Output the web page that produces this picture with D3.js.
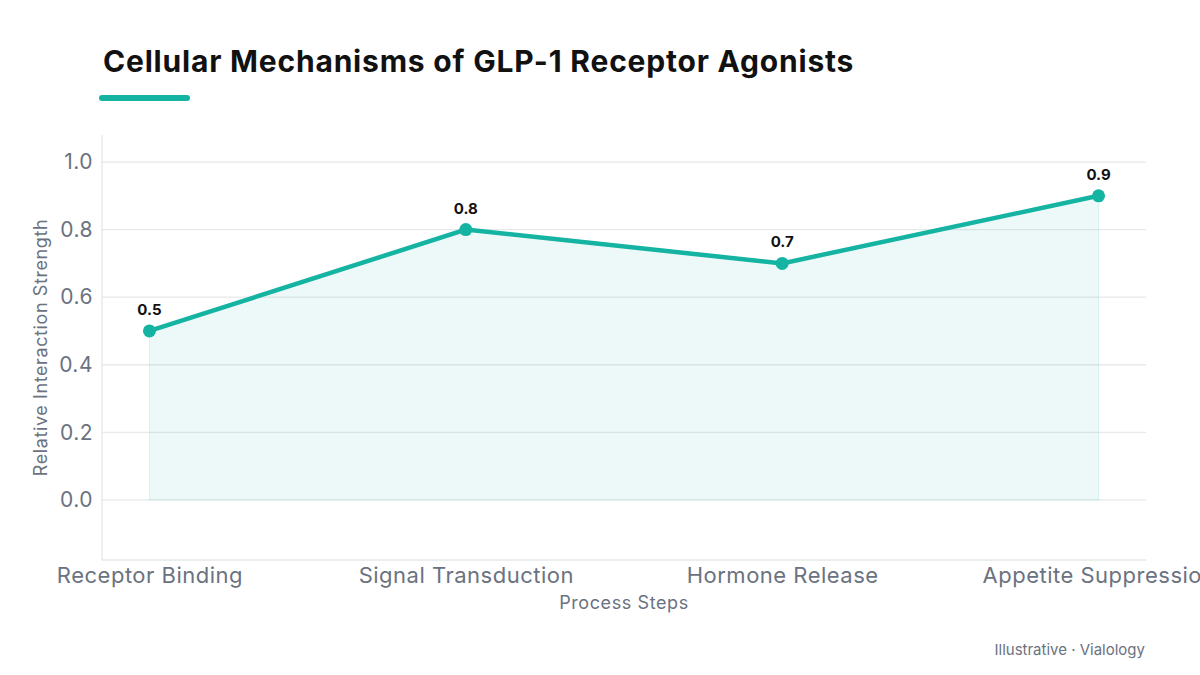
<!DOCTYPE html>
<html>
<head>
    <title>Cellular Mechanisms of GLP-1 Receptor Agonists</title>
    <script src="https://d3js.org/d3.v7.min.js"></script>
    <style>
        body { margin: 0; background: #fff; }
        svg text { font-family: "Inter", "DejaVu Sans", sans-serif; }
    </style>
</head>
<body>
    <svg id="chart" width="1200" height="675"></svg>

    <script>
        // chart data
        const steps = ["Receptor Binding", "Signal Transduction", "Hormone Release", "Appetite Suppression"];
        const strength = [0.5, 0.8, 0.7, 0.9];
        const yTicks = [0, 0.2, 0.4, 0.6, 0.8, 1.0];

        const svg = d3.select("svg#chart");
        const margin = { top: 135, right: 54, bottom: 115, left: 102 };
        const width = +svg.attr("width") - margin.left - margin.right;
        const height = +svg.attr("height") - margin.top - margin.bottom;
        const teal = "#14b3a2";

        // title + accent bar
        svg.append("text")
            .attr("x", 103).attr("y", 72)
            .style("font-size", "30px").style("font-weight", "700").style("fill", "#111")
            .style("letter-spacing", "0.8px")
            .text("Cellular Mechanisms of GLP-1 Receptor Agonists");
        svg.append("rect")
            .attr("x", 99).attr("y", 95).attr("width", 91).attr("height", 6).attr("rx", 3)
            .attr("fill", teal);

        const x = d3.scalePoint().domain(steps).range([0, width]).padding(0.15);
        const y = d3.scaleLinear().domain([-0.178, 1.08]).range([height, 0]);

        const g = svg.append("g").attr("transform", "translate(" + margin.left + "," + margin.top + ")");

        // gridlines
        g.selectAll(".grid").data(yTicks).join("line")
            .attr("class", "grid")
            .attr("x1", 0).attr("x2", width)
            .attr("y1", d => y(d)).attr("y2", d => y(d))
            .attr("stroke", "#e6eae9").attr("stroke-width", 1.3);

        // axis lines
        g.append("line").attr("x1", 0).attr("x2", 0).attr("y1", 0).attr("y2", height)
            .attr("stroke", "#e3e8e7").attr("stroke-width", 1.3);
        g.append("line").attr("x1", 0).attr("x2", width).attr("y1", height).attr("y2", height)
            .attr("stroke", "#e3e8e7").attr("stroke-width", 1.3);

        // y axis ticks
        const yAxis = g.append("g")
            .call(d3.axisLeft(y).tickValues(yTicks).tickFormat(d3.format(".1f")).tickSize(0).tickPadding(9));
        yAxis.select(".domain").remove();
        yAxis.selectAll("text").style("font-size", "21px").style("fill", "#6b7280").style("letter-spacing", "0.5px");

        // x axis ticks
        const xAxis = g.append("g")
            .attr("transform", "translate(0," + height + ")")
            .call(d3.axisBottom(x).tickSize(0).tickPadding(7));
        xAxis.select(".domain").remove();
        xAxis.selectAll("text").style("font-size", "22px").style("fill", "#6b7280").style("letter-spacing", "0.5px");

        // axis titles
        svg.append("text")
            .attr("transform", "translate(47," + (margin.top + height / 2) + ") rotate(-90)")
            .attr("text-anchor", "middle")
            .style("font-size", "18px").style("fill", "#6b7280").style("letter-spacing", "0.6px")
            .text("Relative Interaction Strength");
        svg.append("text")
            .attr("x", margin.left + width / 2).attr("y", 609)
            .attr("text-anchor", "middle")
            .style("font-size", "18px").style("fill", "#6b7280").style("letter-spacing", "0.6px")
            .text("Process Steps");

        const data = steps.map((s, i) => ({ step: s, value: strength[i] }));

        // area
        g.append("path")
            .datum(data)
            .attr("d", d3.area().x(d => x(d.step)).y0(y(0)).y1(d => y(d.value)))
            .attr("fill", teal).attr("fill-opacity", 0.08)
            .attr("stroke", teal).attr("stroke-opacity", 0.12).attr("stroke-width", 1);

        // line
        g.append("path")
            .datum(data)
            .attr("d", d3.line().x(d => x(d.step)).y(d => y(d.value)))
            .attr("fill", "none").attr("stroke", teal).attr("stroke-width", 4.5);

        g.selectAll(".dot").data(data).join("circle")
            .attr("class", "dot")
            .attr("cx", d => x(d.step)).attr("cy", d => y(d.value)).attr("r", 6.5)
            .attr("fill", teal);

        g.selectAll(".val").data(data).join("text")
            .attr("class", "val")
            .attr("x", d => x(d.step)).attr("y", d => y(d.value) - 16)
            .attr("text-anchor", "middle")
            .style("font-size", "15px").style("font-weight", "700").style("fill", "#111")
            .text(d => d.value.toFixed(1));

        // footer
        svg.append("text")
            .attr("x", 1145).attr("y", 655)
            .attr("text-anchor", "end")
            .style("font-size", "15px").style("fill", "#6b7280")
            .text("Illustrative · Vialology");
    </script>
</body>
</html>
